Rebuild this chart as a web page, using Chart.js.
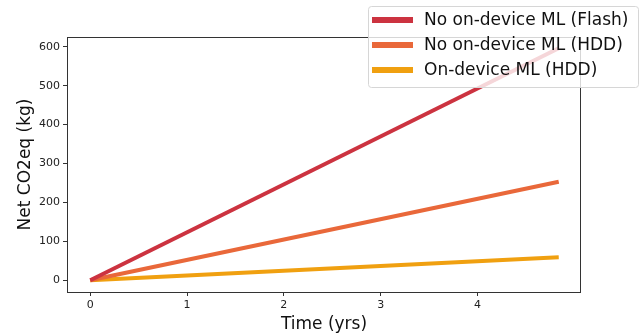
<!DOCTYPE html>
<html>
<head>
<meta charset="utf-8">
<script src="https://cdn.jsdelivr.net/npm/chart.js@4"></script>
<style>
  html, body { margin: 0; padding: 0; background: #fff; }
  #wrap { width: 641px; height: 335px; }
</style>
</head>
<body>
<div id="wrap"><canvas id="chart" width="641" height="335"></canvas></div>
<script>
// data
const years = [0, 4.84];
const flashNoML = [0, 596];
const hddNoML = [0, 253];
const hddOnDevice = [0, 59];
const seriesLabels = ['No on-device ML (Flash)', 'No on-device ML (HDD)', 'On-device ML (HDD)'];
const seriesColors = ['#cc3340', '#e9683a', '#f0a010'];
const xTicks = [0, 1, 2, 3, 4];
const yTicks = [0, 100, 200, 300, 400, 500, 600];

const font = "'DejaVu Sans', sans-serif";

function pts(xs, ys) {
    return xs.map((x, i) => ({ x: x, y: ys[i] }));
}

// box round the plot + legend drawn over the top right corner
const frameAndLegend = {
    id: 'frameAndLegend',
    afterDraw(chart) {
        const ctx = chart.ctx;
        const a = chart.chartArea;
        ctx.save();
        ctx.strokeStyle = '#333';
        ctx.lineWidth = 1;
        ctx.strokeRect(a.left + 0.5, a.top + 0.5, a.right - a.left - 1, a.bottom - a.top);

        const lx = 368, ly = 6, lw = 270, lh = 81;
        ctx.fillStyle = 'rgba(255,255,255,0.8)';
        ctx.strokeStyle = '#d6d6d6';
        ctx.beginPath();
        ctx.roundRect(lx + 0.5, ly + 0.5, lw, lh, 3);
        ctx.fill();
        ctx.stroke();

        ctx.font = '17px ' + font;
        ctx.textBaseline = 'middle';
        chart.data.datasets.forEach((ds, i) => {
            const cy = 20 + i * 25;
            ctx.strokeStyle = ds.borderColor;
            ctx.lineWidth = 6;
            ctx.beginPath();
            ctx.moveTo(372, cy);
            ctx.lineTo(413, cy);
            ctx.stroke();
            ctx.fillStyle = '#111';
            ctx.fillText(ds.label, 424, cy + 1);
        });
        ctx.restore();
    }
};

new Chart(document.getElementById('chart').getContext('2d'), {
    type: 'line',
    data: {
        datasets: [
            { label: seriesLabels[0], data: pts(years, flashNoML), borderColor: seriesColors[0] },
            { label: seriesLabels[1], data: pts(years, hddNoML), borderColor: seriesColors[1] },
            { label: seriesLabels[2], data: pts(years, hddOnDevice), borderColor: seriesColors[2] }
        ].map(d => Object.assign(d, { borderWidth: 4, pointRadius: 0, fill: false, tension: 0 }))
    },
    options: {
        responsive: false,
        animation: false,
        layout: { padding: { top: 37, right: 60, left: 15, bottom: 0 } },
        plugins: { legend: { display: false }, tooltip: { enabled: false } },
        scales: {
            x: {
                type: 'linear',
                min: -0.24,
                max: 5.07,
                afterBuildTicks: s => { s.ticks = xTicks.map(v => ({ value: v })); },
                afterFit: s => { s.height = 43; },
                grid: { drawOnChartArea: false, drawTicks: true, tickLength: 4, color: '#333' },
                border: { display: false },
                ticks: { color: '#222', font: { family: font, size: 11 }, padding: 3, maxRotation: 0 },
                title: { display: true, text: 'Time (yrs)', color: '#111', font: { family: font, size: 17 }, padding: { top: 0, bottom: 0 } }
            },
            y: {
                min: -30,
                max: 625,
                afterBuildTicks: s => { s.ticks = yTicks.map(v => ({ value: v })); },
                afterFit: s => { s.width = 52; },
                grid: { drawOnChartArea: false, drawTicks: true, tickLength: 4, color: '#333' },
                border: { display: false },
                ticks: { color: '#222', font: { family: font, size: 11 }, padding: 3 },
                title: { display: true, text: 'Net CO2eq (kg)', color: '#111', font: { family: font, size: 17 }, padding: { top: 0, bottom: 0 } }
            }
        }
    },
    plugins: [frameAndLegend]
});
</script>
</body>
</html>
